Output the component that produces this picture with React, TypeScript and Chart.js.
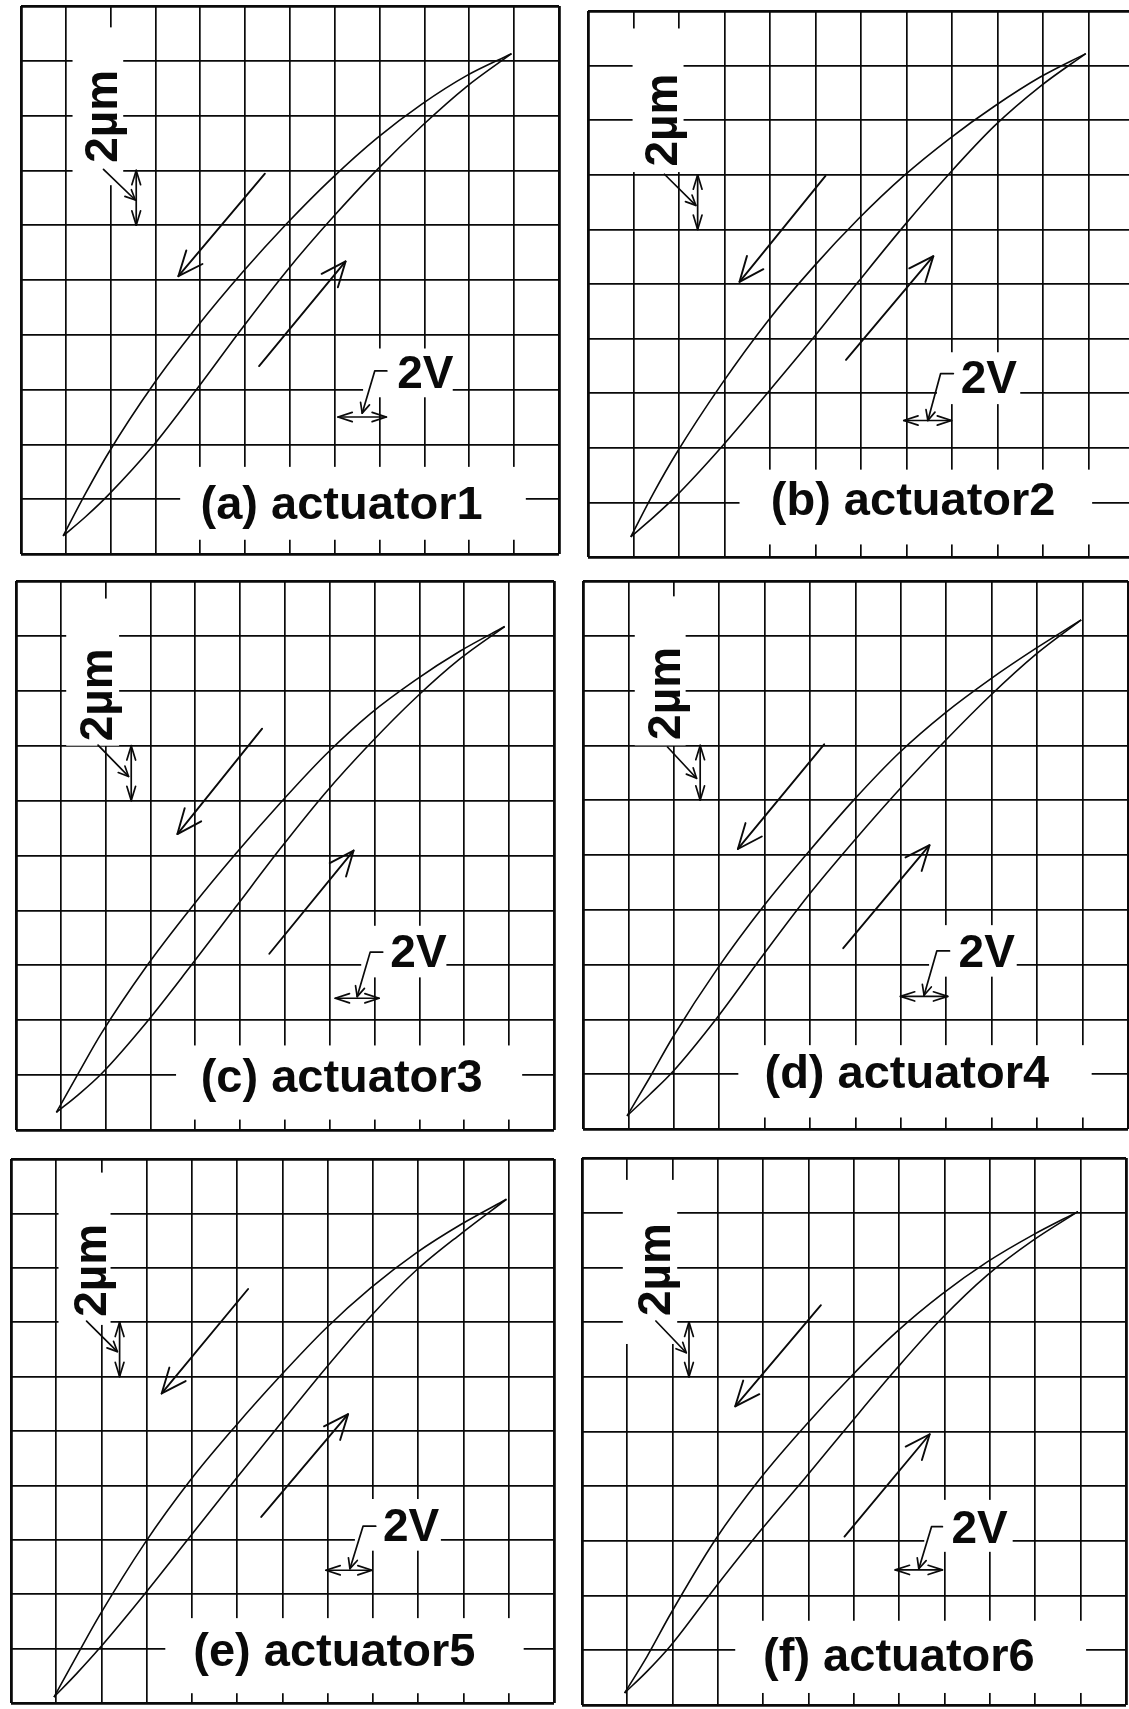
import React, { useEffect, useRef } from "react";
import { Chart, registerables } from "chart.js";

Chart.register(...registerables);

// Drive voltage samples (V), shared by every trace
const driveVoltage = [0, 1, 2, 4, 6, 8, 10, 12, 14, 16, 18, 20];

// Displacement (µm) on the rising sweep and on the falling sweep, per actuator
const act1Rise = [0, 0.7, 1.48, 3.28, 5.4, 7.6, 9.7, 11.6, 13.36, 14.96, 16.4, 17.6];
const act1Fall = [0, 1.55, 3.0, 5.5, 7.66, 9.62, 11.42, 13.06, 14.52, 15.76, 16.8, 17.6];
const act2Rise = [0, 0.72, 1.5, 3.3, 5.26, 7.26, 9.34, 11.38, 13.3, 15.06, 16.5, 17.7];
const act2Fall = [0, 1.6, 3.05, 5.6, 7.88, 9.86, 11.64, 13.22, 14.58, 15.78, 16.84, 17.7];
const act3Rise = [0, 0.66, 1.4, 3.26, 5.34, 7.48, 9.62, 11.64, 13.44, 15.08, 16.52, 17.7];
const act3Fall = [0, 1.45, 2.87, 5.3, 7.44, 9.42, 11.28, 13.02, 14.52, 15.74, 16.8, 17.7];
const act4Rise = [0, 0.78, 1.6, 3.62, 5.88, 8.06, 10.04, 11.92, 13.68, 15.34, 16.84, 18.1];
const act4Fall = [0, 1.4, 2.85, 5.4, 7.64, 9.64, 11.54, 13.26, 14.7, 15.94, 17.06, 18.1];
const act5Rise = [0, 0.86, 1.78, 3.78, 5.88, 7.98, 10.04, 12.08, 14.0, 15.68, 17.04, 18.3];
const act5Fall = [0, 1.5, 2.98, 5.64, 7.94, 9.94, 11.8, 13.54, 15.04, 16.32, 17.38, 18.3];
const act6Rise = [0, 0.8, 1.7, 3.86, 5.94, 7.9, 9.9, 11.86, 13.7, 15.28, 16.54, 17.6];
const act6Fall = [0, 1.35, 2.85, 5.6, 7.86, 9.8, 11.58, 13.2, 14.58, 15.76, 16.74, 17.6];

const panelTitles = [
  "(a) actuator1",
  "(b) actuator2",
  "(c) actuator3",
  "(d) actuator4",
  "(e) actuator5",
  "(f) actuator6",
];
const voltScaleLabel = "2V";
const micronScaleLabel = "2µm";

// Screen graticule: 12 x 10 divisions, 2 V and 2 µm per division
const VOLTS_PER_DIV = 2;
const MICRONS_PER_DIV = 2;
const X_DIVS = 12;
const Y_DIVS = 10;

const INK = "#0a0a0a";
const FONT = '"Liberation Sans", Arial, Helvetica, sans-serif';
const PAD = 3;

type Pt = [number, number];
type Rect = [number, number, number, number]; // x1, x2, y1, y2 in divisions

interface PanelLayout {
  frame: [number, number, number, number]; // left, top, right, bottom (px)
  origin: Pt; // graticule position of 0 V / 0 µm
  umBox: Rect;
  umText: Pt; // baseline x, start y
  umLeader: Pt[];
  umArrow: [number, number, number]; // x, y1, y2
  vBox: Rect;
  vText: Pt;
  vLeader: Pt[];
  vArrow: [number, number, number]; // y, x1, x2
  fallArrow: [Pt, Pt];
  riseArrow: [Pt, Pt];
  titleBox: Rect;
  titleAt: Pt; // centre x, baseline y
}

const layouts: PanelLayout[] = [
  {
    frame: [20.5, 6, 559, 554],
    origin: [0.94, 0.33],
    umBox: [1.15, 2.28, 6.73, 9.61],
    umText: [2.15, 7.14],
    umLeader: [[1.84, 7.02], [2.55, 6.46]],
    umArrow: [2.57, 6.0, 7.0],
    vBox: [7.63, 9.63, 2.86, 3.75],
    vText: [8.39, 3.03],
    vLeader: [[8.16, 3.34], [7.89, 3.34], [7.61, 2.57]],
    vArrow: [2.5, 7.07, 8.15],
    fallArrow: [[5.44, 6.94], [3.51, 5.07]],
    riseArrow: [[5.31, 3.43], [7.24, 5.34]],
    titleBox: [3.55, 11.26, 0.26, 1.59],
    titleAt: [7.15, 0.64],
  },
  {
    frame: [588, 11, 1134, 557],
    origin: [0.94, 0.37],
    umBox: [0.98, 2.1, 7.05, 9.68],
    umText: [1.96, 7.15],
    umLeader: [[1.68, 7.01], [2.37, 6.44]],
    umArrow: [2.41, 6.0, 7.0],
    vBox: [7.67, 9.5, 2.8, 3.75],
    vText: [8.19, 3.0],
    vLeader: [[8.03, 3.36], [7.75, 3.36], [7.47, 2.5]],
    vArrow: [2.5, 6.94, 7.99],
    fallArrow: [[5.22, 6.98], [3.33, 5.04]],
    riseArrow: [[5.67, 3.61], [7.59, 5.51]],
    titleBox: [3.33, 11.08, 0.23, 1.6],
    titleAt: [7.145, 0.77],
  },
  {
    frame: [16, 581, 554, 1130],
    origin: [0.9, 0.32],
    umBox: [1.12, 2.3, 7.0, 9.68],
    umText: [2.14, 7.08],
    umLeader: [[1.83, 7.01], [2.51, 6.44]],
    umArrow: [2.57, 6.0, 7.0],
    vBox: [7.7, 9.6, 2.78, 3.72],
    vText: [8.35, 2.96],
    vLeader: [[8.18, 3.24], [7.9, 3.24], [7.61, 2.43]],
    vArrow: [2.4, 7.12, 8.1],
    fallArrow: [[5.49, 7.31], [3.6, 5.39]],
    riseArrow: [[5.65, 3.21], [7.53, 5.09]],
    titleBox: [3.57, 11.29, 0.19, 1.54],
    titleAt: [7.265, 0.7],
  },
  {
    frame: [583, 581, 1128, 1129],
    origin: [0.97, 0.24],
    umBox: [1.14, 2.26, 7.0, 9.72],
    umText: [2.14, 7.1],
    umLeader: [[1.86, 6.97], [2.5, 6.4]],
    umArrow: [2.58, 6.0, 7.0],
    vBox: [7.62, 9.55, 2.78, 3.72],
    vText: [8.27, 2.95],
    vLeader: [[8.07, 3.25], [7.79, 3.25], [7.51, 2.44]],
    vArrow: [2.42, 6.99, 8.03],
    fallArrow: [[5.31, 7.02], [3.41, 5.11]],
    riseArrow: [[5.73, 3.3], [7.63, 5.18]],
    titleBox: [3.42, 11.2, 0.21, 1.53],
    titleAt: [7.13, 0.75],
  },
  {
    frame: [11, 1159, 554, 1703],
    origin: [0.95, 0.11],
    umBox: [1.05, 2.2, 6.95, 9.75],
    umText: [2.1, 7.1],
    umLeader: [[1.67, 7.02], [2.35, 6.46]],
    umArrow: [2.4, 6.0, 7.0],
    vBox: [7.6, 9.5, 2.8, 3.75],
    vText: [8.22, 2.98],
    vLeader: [[8.06, 3.25], [7.78, 3.25], [7.49, 2.47]],
    vArrow: [2.44, 6.96, 7.98],
    fallArrow: [[5.24, 7.61], [3.33, 5.69]],
    riseArrow: [[5.53, 3.42], [7.45, 5.31]],
    titleBox: [3.41, 11.33, 0.18, 1.56],
    titleAt: [7.145, 0.68],
  },
  {
    frame: [582, 1158, 1126, 1705],
    origin: [0.94, 0.22],
    umBox: [0.9, 2.1, 6.6, 9.6],
    umText: [1.94, 7.11],
    umLeader: [[1.63, 7.02], [2.3, 6.44]],
    umArrow: [2.36, 6.0, 7.0],
    vBox: [7.55, 9.5, 2.8, 3.75],
    vText: [8.15, 2.96],
    vLeader: [[7.95, 3.26], [7.71, 3.26], [7.43, 2.49]],
    vArrow: [2.47, 6.91, 7.95],
    fallArrow: [[5.27, 7.31], [3.38, 5.46]],
    riseArrow: [[5.79, 3.08], [7.67, 4.95]],
    titleBox: [3.38, 11.12, 0.22, 1.54],
    titleAt: [6.99, 0.63],
  },
];

const sweeps: [number[], number[]][] = [
  [act1Rise, act1Fall],
  [act2Rise, act2Fall],
  [act3Rise, act3Fall],
  [act4Rise, act4Fall],
  [act5Rise, act5Fall],
  [act6Rise, act6Fall],
];

// Graticule divisions -> canvas pixels, through the chart's own scales
function graticule(chart: any) {
  const xs = chart.scales.x;
  const ys = chart.scales.y;
  return {
    X: (d: number) => xs.getPixelForValue(xs.min + d * VOLTS_PER_DIV),
    Y: (d: number) => ys.getPixelForValue(ys.min + d * MICRONS_PER_DIV),
  };
}

function head(ctx: CanvasRenderingContext2D, tip: Pt, from: Pt, len: number, half: number) {
  const ang = Math.atan2(from[1] - tip[1], from[0] - tip[0]);
  ctx.beginPath();
  ctx.moveTo(tip[0] + len * Math.cos(ang + half), tip[1] + len * Math.sin(ang + half));
  ctx.lineTo(tip[0], tip[1]);
  ctx.lineTo(tip[0] + len * Math.cos(ang - half), tip[1] + len * Math.sin(ang - half));
  ctx.stroke();
}

function polyline(ctx: CanvasRenderingContext2D, pts: Pt[]) {
  ctx.beginPath();
  pts.forEach((p, i) => (i === 0 ? ctx.moveTo(p[0], p[1]) : ctx.lineTo(p[0], p[1])));
  ctx.stroke();
}

const deg = Math.PI / 180;

function scopeMarks(layout: PanelLayout, title: string) {
  return {
    id: "scopeMarks",
    beforeDatasetsDraw(chart: any) {
      const { X, Y } = graticule(chart);
      const ctx: CanvasRenderingContext2D = chart.ctx;
      ctx.save();
      ctx.fillStyle = "#ffffff";
      for (const b of [layout.umBox, layout.vBox, layout.titleBox]) {
        const x1 = X(b[0]);
        const x2 = X(b[1]);
        const yTop = Y(b[3]);
        const yBot = Y(b[2]);
        ctx.fillRect(x1, yTop, x2 - x1, yBot - yTop);
      }
      ctx.restore();
    },
    afterDatasetsDraw(chart: any) {
      const { X, Y } = graticule(chart);
      const P = (p: Pt): Pt => [X(p[0]), Y(p[1])];
      const ctx: CanvasRenderingContext2D = chart.ctx;
      ctx.save();
      ctx.strokeStyle = INK;
      ctx.fillStyle = INK;
      ctx.lineCap = "round";
      ctx.lineJoin = "round";

      // sweep-direction arrows
      ctx.lineWidth = 1.9;
      for (const [start, tip] of [layout.fallArrow, layout.riseArrow]) {
        const s = P(start);
        const t = P(tip);
        polyline(ctx, [s, t]);
        head(ctx, t, s, 27, 23 * deg);
      }

      // vertical scale bar (one division)
      ctx.lineWidth = 1.7;
      const [ux, uy1, uy2] = layout.umArrow;
      const ua = P([ux, uy1]);
      const ub = P([ux, uy2]);
      polyline(ctx, [ua, ub]);
      head(ctx, ua, ub, 15, 17 * deg);
      head(ctx, ub, ua, 15, 17 * deg);
      const ul = layout.umLeader.map(P);
      polyline(ctx, ul);
      head(ctx, ul[ul.length - 1], ul[ul.length - 2], 11, 25 * deg);

      // horizontal scale bar (one division)
      const [vy, vx1, vx2] = layout.vArrow;
      const va = P([vx1, vy]);
      const vb = P([vx2, vy]);
      polyline(ctx, [va, vb]);
      head(ctx, va, vb, 15, 18 * deg);
      head(ctx, vb, va, 15, 18 * deg);
      const vl = layout.vLeader.map(P);
      polyline(ctx, vl);
      head(ctx, vl[vl.length - 1], vl[vl.length - 2], 11, 25 * deg);

      // texts
      ctx.textBaseline = "alphabetic";
      ctx.font = `bold 46px ${FONT}`;
      ctx.textAlign = "left";
      ctx.fillText(voltScaleLabel, X(layout.vText[0]), Y(layout.vText[1]));

      ctx.save();
      ctx.translate(X(layout.umText[0]), Y(layout.umText[1]));
      ctx.rotate(-Math.PI / 2);
      ctx.fillText(micronScaleLabel, 0, 0);
      ctx.restore();

      ctx.font = `bold 47px ${FONT}`;
      ctx.textAlign = "center";
      ctx.fillText(title, X(layout.titleAt[0]), Y(layout.titleAt[1]));
      ctx.restore();
    },
  };
}

function ScopePanel({ index }: { index: number }) {
  const ref = useRef<HTMLCanvasElement | null>(null);
  const layout = layouts[index];
  const [left, top, right, bottom] = layout.frame;
  const w = Math.round(right) - Math.round(left) + 2 * PAD;
  const h = Math.round(bottom) - Math.round(top) + 2 * PAD;

  useEffect(() => {
    if (!ref.current) return;
    const [rise, fall] = sweeps[index];
    const xMin = -layout.origin[0] * VOLTS_PER_DIV;
    const yMin = -layout.origin[1] * MICRONS_PER_DIV;
    const edgeWidth = (last: number) => (c: any) =>
      c.index === 0 || c.index === last ? 2.8 : 1.7;

    const trace = (values: number[]) => ({
      data: driveVoltage.map((v, i) => ({ x: v, y: values[i] })),
      showLine: true,
      borderColor: INK,
      borderWidth: 1.6,
      pointRadius: 0,
      fill: false,
      cubicInterpolationMode: "monotone" as const,
    });

    const chart = new Chart(ref.current, {
      type: "scatter",
      data: { datasets: [trace(rise), trace(fall)] },
      options: {
        responsive: false,
        maintainAspectRatio: false,
        animation: false,
        events: [],
        layout: { padding: PAD },
        plugins: { legend: { display: false }, tooltip: { enabled: false } },
        scales: {
          x: {
            type: "linear",
            min: xMin,
            max: xMin + X_DIVS * VOLTS_PER_DIV,
            afterBuildTicks: (s: any) => {
              s.ticks = Array.from({ length: X_DIVS + 1 }, (_, i) => ({ value: xMin + i * VOLTS_PER_DIV }));
            },
            ticks: { display: false },
            border: { display: false },
            grid: { color: INK, lineWidth: edgeWidth(X_DIVS), drawTicks: false },
          },
          y: {
            type: "linear",
            min: yMin,
            max: yMin + Y_DIVS * MICRONS_PER_DIV,
            afterBuildTicks: (s: any) => {
              s.ticks = Array.from({ length: Y_DIVS + 1 }, (_, i) => ({ value: yMin + i * MICRONS_PER_DIV }));
            },
            ticks: { display: false },
            border: { display: false },
            grid: { color: INK, lineWidth: edgeWidth(Y_DIVS), drawTicks: false },
          },
        },
      },
      plugins: [scopeMarks(layout, panelTitles[index])],
    } as any);
    return () => chart.destroy();
  }, [index]);

  return (
    <canvas
      ref={ref}
      width={w}
      height={h}
      style={{
        position: "absolute",
        left: Math.round(left) - PAD,
        top: Math.round(top) - PAD,
        width: w,
        height: h,
      }}
    />
  );
}

export default function App() {
  return (
    <div
      style={{
        position: "absolute",
        left: 0,
        top: 0,
        width: 1129,
        height: 1709,
        overflow: "hidden",
        background: "#ffffff",
      }}
    >
      {layouts.map((_, i) => (
        <ScopePanel key={i} index={i} />
      ))}
    </div>
  );
}
